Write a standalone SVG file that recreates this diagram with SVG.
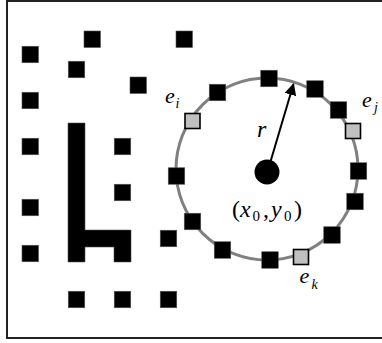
<svg xmlns="http://www.w3.org/2000/svg" width="382" height="343" viewBox="0 0 382 343">
<style>
.b{fill:#000;stroke:#555;stroke-width:0.6}
.g{fill:#c0c0c0;stroke:#000;stroke-width:1.6}
.t{font-family:"Liberation Serif","Times New Roman",serif;fill:#000}
.i{font-style:italic}
</style>
<defs>
<rect id="sq" class="b" x="-8.25" y="-8.25" width="16.5" height="16.5"/>
<rect id="gq" class="g" x="-7.5" y="-7.5" width="15" height="15"/>
<marker id="ah" markerWidth="12" markerHeight="12" refX="11" refY="6" orient="auto" markerUnits="userSpaceOnUse" viewBox="0 0 12 12">
<path d="M0,0 L12,6 L0,12 Z" fill="#000"/>
</marker>
</defs>
<rect x="7" y="1" width="380" height="337" fill="#fff" stroke="#222" stroke-width="2"/>
<g id="pixels">
<use href="#sq" x="92.25" y="39.25"/>
<use href="#sq" x="184.25" y="39.25"/>
<use href="#sq" x="30.25" y="54.5"/>
<use href="#sq" x="76.5" y="69.5"/>
<use href="#sq" x="138.25" y="85.25"/>
<use href="#sq" x="30.25" y="100.5"/>
<use href="#sq" x="30.25" y="146.5"/>
<use href="#sq" x="122.5" y="146.5"/>
<use href="#sq" x="122.5" y="192.5"/>
<use href="#sq" x="30.25" y="207.5"/>
<use href="#sq" x="168.5" y="238.5"/>
<use href="#sq" x="30.25" y="253.5"/>
<use href="#sq" x="76.5" y="299.5"/>
<use href="#sq" x="122.5" y="299.5"/>
<use href="#sq" x="168.5" y="299.5"/>
</g>
<g id="line-shape">
<path d="M68,123 H85 V230 H131 V262 H114 V247 H85 V262 H68 Z" fill="#000" stroke="#555" stroke-width="0.6"/>
</g>
<g id="circle">
<circle cx="267" cy="169" r="91" fill="none" stroke="#808080" stroke-width="3"/>
</g>
<g id="circle-pixels">
<use href="#sq" x="217.5" y="92.5"/>
<use href="#sq" x="269" y="78.5"/>
<use href="#sq" x="315" y="89"/>
<use href="#sq" x="338.5" y="110"/>
<use href="#sq" x="358.5" y="171"/>
<use href="#sq" x="355" y="201.5"/>
<use href="#sq" x="332" y="235"/>
<use href="#sq" x="270" y="260"/>
<use href="#sq" x="222.5" y="250"/>
<use href="#sq" x="192.5" y="221.5"/>
<use href="#sq" x="176.5" y="176"/>
</g>
<g id="ei">
<use href="#gq" x="192.5" y="121"/>
<text class="t i" x="165" y="103" font-size="22">e</text>
<text class="t i" x="175.5" y="108" font-size="14">i</text>
</g>
<g id="ej">
<use href="#gq" x="353" y="131"/>
<text class="t i" x="362" y="107" font-size="22">e</text>
<text class="t i" x="374" y="112" font-size="14">j</text>
</g>
<g id="ek">
<use href="#gq" x="301" y="257"/>
<text class="t i" x="299.5" y="283" font-size="22">e</text>
<text class="t i" x="311.5" y="289" font-size="14">k</text>
</g>
<g id="center">
<circle cx="267" cy="172" r="12.5" fill="#000"/>
<text class="t" y="217" font-size="24"><tspan x="232">(</tspan><tspan class="i" x="240">x</tspan><tspan x="252.5" y="221" font-size="15">0</tspan><tspan x="263" y="217">,</tspan><tspan class="i" x="271">y</tspan><tspan x="284" y="221" font-size="15">0</tspan><tspan x="294" y="217">)</tspan></text>
</g>
<g id="connectors">
<line x1="268" y1="170" x2="293.5" y2="84" stroke="#000" stroke-width="2" marker-end="url(#ah)"/>
<text class="t i" x="257" y="137" font-size="24">r</text>
</g>
</svg>
